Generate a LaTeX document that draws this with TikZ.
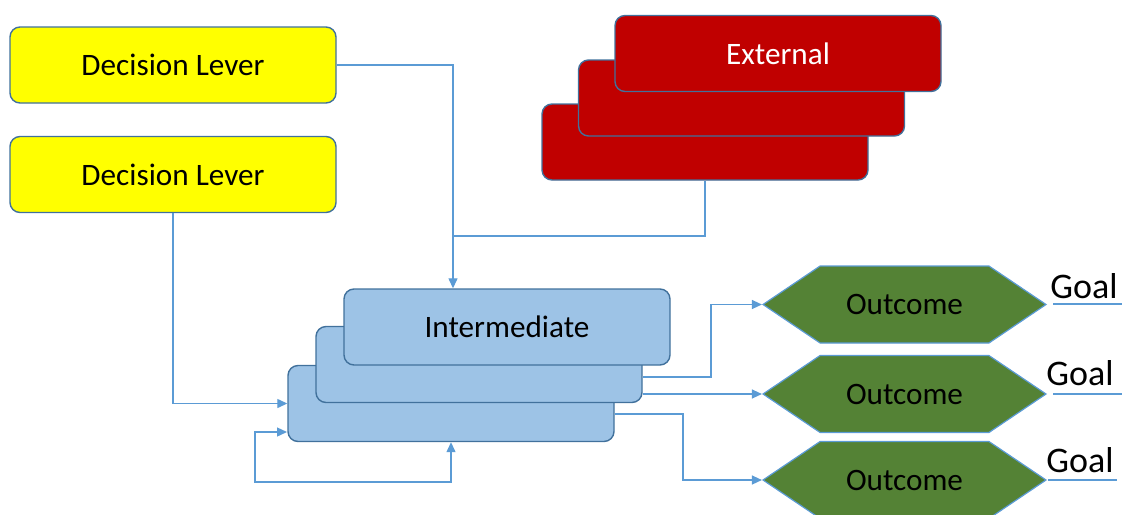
\documentclass[tikz,border=0pt]{standalone}
\usepackage{fontspec}
\setmainfont{Carlito}
\usetikzlibrary{arrows.meta,shapes.symbols,calc}
\definecolor{lever}{HTML}{FFFF00}
\definecolor{extred}{HTML}{C00000}
\definecolor{interblue}{HTML}{9DC3E6}
\definecolor{outgreen}{HTML}{548235}
\definecolor{edgeblue}{HTML}{41719C}
\definecolor{linkblue}{HTML}{5B9BD5}
\tikzset{
  box/.style={draw=edgeblue, line width=0.7pt, rounded corners=5pt, minimum width=163pt, minimum height=38pt, inner sep=0pt, font=\fontsize{15.6}{17}\selectfont},
  leverbox/.style={box, fill=lever},
  extbox/.style={box, fill=extred, text=white},
  interbox/.style={box, fill=interblue},
  outhex/.style={draw=linkblue, line width=0.6pt, fill=outgreen, shape=signal, signal to=west and east, signal pointer angle=68, minimum width=141.5pt, minimum height=38.5pt, inner sep=0pt, font=\fontsize{15.6}{17}\selectfont},
  goaltext/.style={inner sep=0pt, font=\fontsize{18}{20}\selectfont},
  link/.style={draw=linkblue, line width=0.65pt},
  arr/.style={-{Triangle[length=5pt,width=4.5pt]}},
}
\begin{document}
\begin{tikzpicture}[x=0.5pt, y=-0.5pt]
\useasboundingbox (0,0) rectangle (1122,514);
% decision levers
\node[leverbox] (dl1) at (173,65) {Decision Lever};
\node[leverbox] (dl2) at (173,174.5) {Decision Lever};
% external stack
\node[extbox] (e1) at (705,142) {};
\node[extbox] (e2) at (741.5,98) {};
\node[extbox] (e3) at (778,53.5) {External};
% intermediate stack
\node[interbox] (i1) at (451,403.5) {};
\node[interbox] (i2) at (479,364.5) {};
\node[interbox] (i3) at (507,327) {Intermediate};
% outcomes
\node[outhex] (o1) at (904.5,304.5) {Outcome};
\node[outhex] (o2) at (904.5,394) {Outcome};
\node[outhex] (o3) at (904.5,480) {Outcome};
% goals
\node[goaltext] (g1) at (1084,286) {Goal};
\node[goaltext] (g2) at (1080,373) {Goal};
\node[goaltext] (g3) at (1080,460) {Goal};
\coordinate (g1a) at (1053,304); \coordinate (g1b) at (1122,304);
\coordinate (g2a) at (1053,394); \coordinate (g2b) at (1122,394);
\coordinate (g3a) at (1048,480); \coordinate (g3b) at (1117,480);
\draw[link] (g1a) -- (g1b);
\draw[link] (g2a) -- (g2b);
\draw[link] (g3a) -- (g3b);
% connectors
\coordinate (j) at (453,236);
\draw[link] (dl1.east) -| (j);
\draw[link] (e1.south) |- (j);
\draw[link, arr] (j) -- (j |- i3.north);
\draw[link, arr] (dl2.south) |- (i1.west);
\coordinate (lp) at (255,482);
\coordinate (lpin) at (287,432);
\draw[link, {Triangle[length=5pt,width=4.5pt]}-{Triangle[length=5pt,width=4.5pt]}] (i1.south) |- (lp) |- (lpin);
\coordinate (s1) at (643,377);
\coordinate (s2) at (643,394);
\coordinate (s3) at (615,414);
\draw[link, arr] (s1) -- (711,377) |- (o1.west);
\draw[link, arr] (s2) -- (o2.west);
\draw[link, arr] (s3) -- (683,414) |- (o3.west);
\end{tikzpicture}
\end{document}
